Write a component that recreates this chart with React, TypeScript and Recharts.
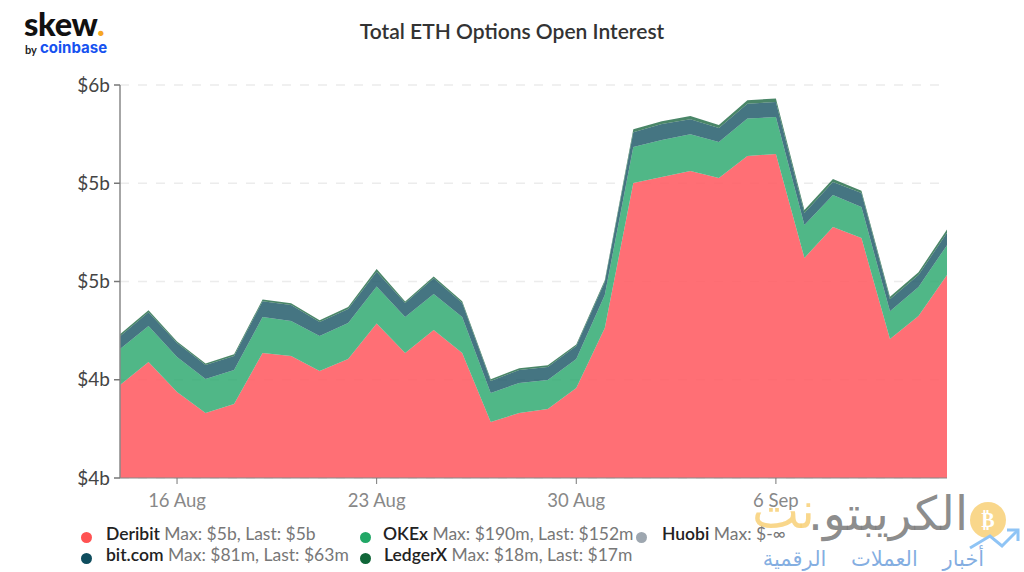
import React from 'react';
import { AreaChart, Area, XAxis, YAxis, CartesianGrid } from 'recharts';

// values in $m
const dates = [
  '14 Aug', '15 Aug', '16 Aug', '17 Aug', '18 Aug', '19 Aug', '20 Aug', '21 Aug', '22 Aug', '23 Aug',
  '24 Aug', '25 Aug', '26 Aug', '27 Aug', '28 Aug', '29 Aug', '30 Aug', '31 Aug', '1 Sep', '2 Sep',
  '3 Sep', '4 Sep', '5 Sep', '6 Sep', '7 Sep', '8 Sep', '9 Sep', '10 Sep', '11 Sep', '12 Sep',
];
const deribit = [
  3973, 4090, 3938, 3831, 3877, 4136, 4121, 4045, 4106, 4286,
  4136, 4253, 4136, 3785, 3831, 3851, 3958, 4263, 5001, 5032,
  5062, 5027, 5139, 5149, 4620, 4777, 4721, 4207, 4324, 4533,
];
const okex = [
  183, 183, 178, 173, 173, 183, 178, 178, 183, 188,
  183, 183, 183, 148, 153, 148, 148, 168, 183, 188,
  188, 183, 190, 188, 168, 163, 158, 142, 148, 152,
];
const bitcom = [
  66, 71, 71, 71, 71, 81, 81, 71, 71, 76,
  71, 81, 71, 61, 66, 66, 66, 66, 76, 81,
  76, 71, 76, 76, 61, 66, 71, 61, 61, 63,
];
const ledgerx = [
  10, 10, 8, 8, 9, 9, 9, 9, 10, 14,
  8, 8, 9, 9, 8, 9, 8, 9, 15, 15,
  16, 16, 18, 18, 15, 16, 12, 13, 14, 17,
];
const xTicks = ['16 Aug', '23 Aug', '30 Aug', '6 Sep'];
const yTicks = [3500, 4000, 4500, 5000, 5500];

const legendRows = [
  { name: 'Deribit', rest: 'Max: $5b, Last: $5b', color: '#ff5252', dot: 86, text: 106, y: 525 },
  { name: 'OKEx', rest: 'Max: $190m, Last: $152m', color: '#21a766', dot: 365, text: 383, y: 525 },
  { name: 'Huobi', rest: 'Max: $-∞', color: '#9ea7b0', dot: 641, text: 662, y: 525 },
  { name: 'bit.com', rest: 'Max: $81m, Last: $63m', color: '#0f4d5e', dot: 86, text: 106, y: 546 },
  { name: 'LedgerX', rest: 'Max: $18m, Last: $17m', color: '#106638', dot: 365, text: 384, y: 546 },
];

const data = dates.map((d, i) => ({
  date: d,
  deribit: deribit[i],
  okex: okex[i],
  bitcom: bitcom[i],
  ledgerx: ledgerx[i],
}));

const font = 'Lato, sans-serif';

const abs = (left: number, top: number): React.CSSProperties => ({
  position: 'absolute',
  left,
  top,
  whiteSpace: 'nowrap',
  lineHeight: 1,
});

export default function App() {
  return (
    <div style={{ position: 'absolute', left: 0, top: 0, width: 1024, height: 572, background: '#fff', fontFamily: font, overflow: 'hidden' }}>
      <AreaChart
        width={1024}
        height={572}
        data={data}
        margin={{ top: 85, right: 77, bottom: 64, left: 60 }}
      >
        <CartesianGrid vertical={false} stroke="#ececec" strokeDasharray="9 9" strokeWidth={1.5} />
        <XAxis
          dataKey="date"
          ticks={xTicks}
          interval={0}
          height={30}
          stroke="#888"
          tickLine={{ stroke: '#777' }}
          tick={{ fill: '#888', fontSize: 18.5, fontFamily: font }}
          tickMargin={10}
        />
        <YAxis
          domain={[3500, 5500]}
          ticks={yTicks}
          allowDataOverflow
          width={60}
          stroke="#888"
          strokeWidth={1.5}
          tickLine={{ stroke: '#777' }}
          tick={{ fill: '#444', fontSize: 19, fontFamily: font }}
          tickMargin={4}
          tickFormatter={(v: number) => `$${Math.round(v / 1000)}b`}
        />
        <Area dataKey="deribit" stackId="oi" stroke="none" fill="#ff5a60" fillOpacity={0.87} isAnimationActive={false} />
        <Area dataKey="okex" stackId="oi" stroke="none" fill="#2aa76c" fillOpacity={0.82} isAnimationActive={false} />
        <Area dataKey="bitcom" stackId="oi" stroke="none" fill="#1c5766" fillOpacity={0.82} isAnimationActive={false} />
        <Area dataKey="ledgerx" stackId="oi" stroke="none" fill="#226b47" fillOpacity={0.82} isAnimationActive={false} />
      </AreaChart>

      <div style={{ ...abs(0, 20), width: 1024, textAlign: 'center', fontSize: 21, fontWeight: 600, color: '#333' }}>
        Total ETH Options Open Interest
      </div>

      {/* logo */}
      <div style={{ ...abs(24, 8), fontSize: 32.5, fontWeight: 900, color: '#111', letterSpacing: -0.3 }}>
        skew<span style={{ color: '#f5a623' }}>.</span>
      </div>
      <div style={{ ...abs(25, 44), fontSize: 11, fontWeight: 700, color: '#222' }}>by</div>
      <div style={{ ...abs(40, 40), fontSize: 15, fontWeight: 700, color: '#1652f0', fontFamily: 'Inter, sans-serif' }}>coinbase</div>

      {/* legend */}
      {legendRows.map((r) => (
        <React.Fragment key={r.name}>
          <div style={{ position: 'absolute', left: r.dot - 5, top: r.y + 7, width: 11, height: 11, borderRadius: 6, background: r.color }} />
          <div style={{ ...abs(r.text, r.y), fontSize: 17.5 }}>
            <span style={{ color: '#222', fontWeight: 600 }}>{r.name}</span>{' '}
            <span style={{ color: '#777' }}>{r.rest}</span>
          </div>
        </React.Fragment>
      ))}

      {/* watermark */}
      <div style={{ ...abs(800, 490), width: 168, textAlign: 'right', fontSize: 47, color: 'rgba(120,120,120,0.85)', fontFamily: 'DejaVu Sans' }} dir="rtl">الكريبتو.</div>
      <div style={{ ...abs(752, 486), fontSize: 50, color: 'rgba(248,205,110,0.8)', fontFamily: 'DejaVu Sans' }} dir="rtl">نت</div>
      <svg style={{ position: 'absolute', left: 960, top: 496, overflow: 'visible' }} width={64} height={70}>
        <circle cx={28} cy={24} r={18} fill="rgba(248,205,110,0.8)" />
        <text x={28} y={31} textAnchor="middle" fontSize={20} fontWeight={700} fill="#fff" fontFamily="DejaVu Sans">₿</text>
        <polyline points="10,52 30,40 42,50 58,34" fill="none" stroke="#8fc4f5" strokeWidth={3} />
        <polyline points="47,34 58,34 58,45" fill="none" stroke="#8fc4f5" strokeWidth={3} />
      </svg>
      <div style={{ ...abs(757, 549), fontSize: 21, wordSpacing: 18, color: 'rgba(110,160,220,0.85)', fontFamily: 'DejaVu Sans', width: 233, textAlign: 'center' }} dir="rtl">أخبار العملات الرقمية</div>
    </div>
  );
}
